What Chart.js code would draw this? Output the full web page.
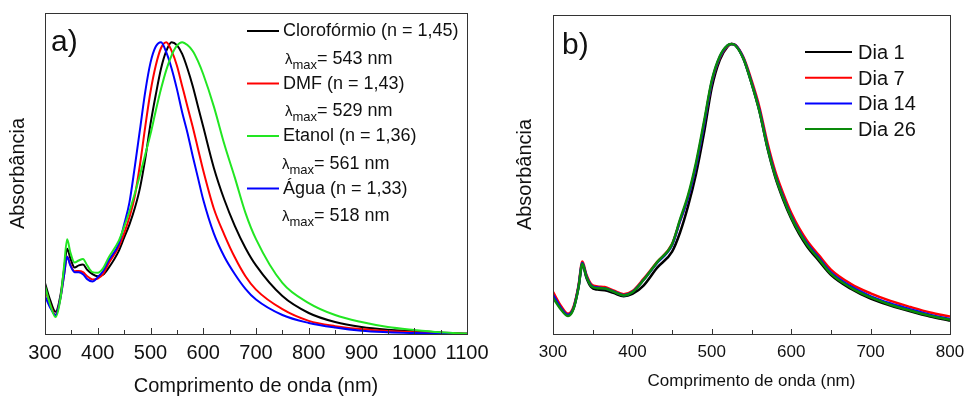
<!DOCTYPE html>
<html>
<head>
<meta charset="utf-8">
<title>Absorbância</title>
<script src="https://cdn.jsdelivr.net/npm/chart.js@4.4.1/dist/chart.umd.min.js"></script>
<style>
  html, body { margin: 0; padding: 0; background: #fff; }
  #wrap { position: relative; width: 966px; height: 396px; }
  .panel { position: absolute; top: 0; height: 396px; }
  #pa { left: 0; width: 490px; }
  #pb { left: 490px; width: 476px; }
</style>
</head>
<body>
<div id="wrap">
  <div class="panel" id="pa"><canvas id="chartA" width="490" height="396"></canvas></div>
  <div class="panel" id="pb"><canvas id="chartB" width="476" height="396"></canvas></div>
</div>
<script>
// ---- Dados (a): solventes ----
const wavelengthsA = [300, 310, 320, 330, 336, 342, 348, 356, 364, 372, 380, 390, 400, 410, 420, 440, 450, 460, 470, 480, 490, 500, 510, 520, 530, 540, 550, 560, 570, 580, 590, 600, 620, 640, 660, 680, 700, 750, 800, 850, 900, 950, 1000, 1050, 1100];
const cloroformio = [0.175, 0.115, 0.076, 0.14, 0.22, 0.292, 0.26, 0.228, 0.235, 0.238, 0.22, 0.205, 0.198, 0.203, 0.225, 0.285, 0.33, 0.375, 0.43, 0.50, 0.60, 0.72, 0.82, 0.91, 0.97, 1.0, 0.99, 0.96, 0.91, 0.85, 0.78, 0.71, 0.57, 0.46, 0.37, 0.295, 0.235, 0.13, 0.072, 0.041, 0.024, 0.015, 0.01, 0.005, 0.002];
const dmf = [0.155, 0.10, 0.066, 0.13, 0.20, 0.265, 0.238, 0.215, 0.216, 0.212, 0.198, 0.187, 0.19, 0.205, 0.24, 0.30, 0.345, 0.40, 0.47, 0.58, 0.71, 0.83, 0.92, 0.98, 1.0, 0.97, 0.92, 0.85, 0.78, 0.71, 0.635, 0.56, 0.43, 0.34, 0.262, 0.198, 0.152, 0.085, 0.045, 0.027, 0.017, 0.01, 0.006, 0.003, 0.0];
const etanol = [0.165, 0.10, 0.058, 0.13, 0.23, 0.325, 0.28, 0.245, 0.252, 0.257, 0.235, 0.212, 0.21, 0.225, 0.26, 0.32, 0.367, 0.42, 0.48, 0.545, 0.615, 0.685, 0.765, 0.84, 0.905, 0.955, 0.988, 1.0, 0.99, 0.97, 0.935, 0.89, 0.78, 0.65, 0.535, 0.415, 0.325, 0.175, 0.106, 0.065, 0.041, 0.024, 0.014, 0.006, 0.001];
const agua = [0.13, 0.09, 0.065, 0.13, 0.20, 0.265, 0.235, 0.212, 0.212, 0.205, 0.188, 0.18, 0.195, 0.215, 0.25, 0.31, 0.375, 0.45, 0.57, 0.70, 0.83, 0.93, 0.985, 1.0, 0.965, 0.91, 0.84, 0.76, 0.69, 0.61, 0.535, 0.46, 0.345, 0.265, 0.205, 0.155, 0.118, 0.065, 0.038, 0.022, 0.011, 0.006, 0.003, 0.001, 0.0];
const solventLabels = ['Clorofórmio (n = 1,45)', 'DMF (n = 1,43)', 'Etanol (n = 1,36)', 'Água (n = 1,33)'];
const lambdaMax = [543, 529, 561, 518];
const ticksA = [300, 400, 500, 600, 700, 800, 900, 1000, 1100];

// ---- Dados (b): estabilidade ----
const wavelengthsB = [300, 310, 319, 326, 332, 337, 342, 348, 356, 365, 376, 389, 400, 414, 431, 450, 460, 470, 480, 490, 500, 510, 520, 525, 530, 540, 550, 560, 570, 580, 590, 600, 610, 620, 635, 650, 675, 700, 725, 750, 775, 800];
const dia1 = [0.135, 0.09, 0.068, 0.09, 0.16, 0.24, 0.195, 0.162, 0.153, 0.151, 0.142, 0.13, 0.138, 0.167, 0.228, 0.284, 0.35, 0.44, 0.55, 0.69, 0.85, 0.945, 0.992, 1.0, 0.995, 0.948, 0.865, 0.768, 0.642, 0.54, 0.463, 0.398, 0.345, 0.302, 0.252, 0.204, 0.156, 0.122, 0.098, 0.078, 0.06, 0.046];
const dia7 = [0.145, 0.097, 0.07, 0.095, 0.165, 0.25, 0.205, 0.172, 0.164, 0.162, 0.15, 0.137, 0.148, 0.19, 0.248, 0.31, 0.39, 0.47, 0.58, 0.72, 0.868, 0.953, 0.994, 1.0, 0.996, 0.953, 0.875, 0.782, 0.66, 0.56, 0.484, 0.418, 0.365, 0.322, 0.271, 0.222, 0.173, 0.14, 0.114, 0.093, 0.074, 0.06];
const dia14 = [0.135, 0.09, 0.066, 0.09, 0.16, 0.245, 0.2, 0.168, 0.16, 0.158, 0.147, 0.134, 0.145, 0.186, 0.245, 0.307, 0.39, 0.47, 0.58, 0.72, 0.87, 0.955, 0.995, 1.0, 0.995, 0.95, 0.868, 0.772, 0.648, 0.548, 0.472, 0.407, 0.355, 0.312, 0.262, 0.212, 0.164, 0.13, 0.105, 0.085, 0.066, 0.052];
const dia26 = [0.125, 0.085, 0.062, 0.088, 0.158, 0.242, 0.198, 0.166, 0.158, 0.157, 0.146, 0.133, 0.144, 0.186, 0.247, 0.31, 0.395, 0.478, 0.59, 0.73, 0.875, 0.958, 0.996, 1.0, 0.994, 0.948, 0.865, 0.768, 0.644, 0.544, 0.468, 0.403, 0.351, 0.308, 0.258, 0.208, 0.16, 0.126, 0.101, 0.081, 0.063, 0.049];
const dayLabels = ['Dia 1', 'Dia 7', 'Dia 14', 'Dia 26'];
const ticksB = [300, 400, 500, 600, 700, 800];

const FONT = '"Liberation Sans", Arial, sans-serif';
const INK = '#111';

function pts(xs, ys) {
  return xs.map((x, i) => ({ x: x, y: ys[i] }));
}

// moldura + ticks para dentro (maiores e menores)
const frameTicks = {
  id: 'frameTicks',
  afterDatasetsDraw(chart, args, opts) {
    const { ctx, chartArea: a } = chart;
    const x = chart.scales.x;
    ctx.save();
    ctx.strokeStyle = '#333';
    ctx.lineWidth = 1;
    ctx.strokeRect(a.left + 0.5, a.top + 0.5, a.right - a.left, a.bottom - a.top);
    for (let v = x.min; v <= x.max; v += opts.minor) {
      const px = Math.round(x.getPixelForValue(v)) + 0.5;
      const len = (v % opts.major === 0) ? opts.majorLen : opts.minorLen;
      ctx.beginPath();
      ctx.moveTo(px, a.bottom);
      ctx.lineTo(px, a.bottom - len);
      ctx.stroke();
    }
    ctx.restore();
  }
};

// legenda e rótulo do painel
const panelText = {
  id: 'panelText',
  afterDraw(chart, args, opts) {
    const ctx = chart.ctx;
    ctx.save();
    ctx.fillStyle = INK;
    ctx.textBaseline = 'alphabetic';
    ctx.font = opts.tagSize + 'px ' + FONT;
    ctx.fillText(opts.tag, opts.tagX, opts.tagY);
    opts.items.forEach((it, i) => {
      const base = opts.y0 + i * opts.step;
      ctx.strokeStyle = chart.data.datasets[it.ds].borderColor;
      ctx.lineWidth = 2;
      ctx.beginPath();
      ctx.moveTo(opts.lineX0, base - opts.lineUp);
      ctx.lineTo(opts.lineX1, base - opts.lineUp);
      ctx.stroke();
      ctx.fillStyle = INK;
      ctx.font = opts.size + 'px ' + FONT;
      ctx.fillText(it.label, opts.textX, base);
      if (it.lmax) {
        const lb = base + opts.lamDy;
        let lx = it.lamX;
        ctx.font = '15px ' + FONT;
        ctx.fillText('λ', lx, lb);
        lx += ctx.measureText('λ').width;
        ctx.font = '13px ' + FONT;
        ctx.fillText('max', lx, lb + 5);
        lx += ctx.measureText('max').width;
        ctx.font = opts.size + 'px ' + FONT;
        ctx.fillText('= ' + it.lmax + ' nm', lx, lb);
      }
    });
    ctx.restore();
  }
};

function line(label, xs, ys, color, width, order) {
  return {
    label: label,
    data: pts(xs, ys),
    borderColor: color,
    borderWidth: width,
    pointRadius: 0,
    fill: false,
    cubicInterpolationMode: 'monotone',
    order: order
  };
}

function baseOptions(cfg) {
  return {
    responsive: false,
    animation: false,
    layout: { padding: { top: cfg.padTop, right: cfg.padRight, left: 0, bottom: 0 } },
    plugins: {
      legend: { display: false },
      tooltip: { enabled: false },
      frameTicks: { major: 100, minor: 50, majorLen: cfg.majorLen, minorLen: cfg.minorLen },
      panelText: cfg.panelText
    },
    scales: {
      x: {
        type: 'linear',
        min: cfg.xMin,
        max: cfg.xMax,
        afterBuildTicks: (s) => { s.ticks = cfg.ticks.map(v => ({ value: v })); },
        afterFit: (s) => { s.height = 62; s.paddingLeft = 0; s.paddingRight = 0; },
        grid: { display: false, drawTicks: false },
        border: { display: false },
        ticks: {
          color: INK, padding: cfg.tickPad, maxRotation: 0, autoSkip: false,
          font: { family: FONT, size: cfg.tickSize },
          callback: (v) => String(v)
        },
        title: { display: true, text: 'Comprimento de onda (nm)', color: INK, font: { family: FONT, size: cfg.xTitleSize, lineHeight: 1 }, padding: { top: 0, bottom: cfg.xTitlePad } }
      },
      y: {
        min: 0,
        max: 1.1,
        afterFit: (s) => { s.width = cfg.yWidth; },
        grid: { display: false, drawTicks: false },
        border: { display: false },
        ticks: { display: false },
        title: { display: true, text: 'Absorbância', color: INK, font: { family: FONT, size: 20, lineHeight: 1.2 }, padding: { top: cfg.yTitlePad, bottom: 0 } }
      }
    }
  };
}

new Chart(document.getElementById('chartA'), {
  type: 'line',
  data: {
    datasets: [
      line(solventLabels[0], wavelengthsA, cloroformio, '#000000', 2, 3),
      line(solventLabels[1], wavelengthsA, dmf, '#ff0000', 2, 2),
      line(solventLabels[2], wavelengthsA, etanol, '#22e622', 2, 0),
      line(solventLabels[3], wavelengthsA, agua, '#0000ff', 2, 1)
    ]
  },
  options: baseOptions({
    padTop: 13, padRight: 23, yWidth: 45, yTitlePad: 6,
    xMin: 300, xMax: 1100, ticks: ticksA, tickSize: 20, tickPad: 7,
    xTitleSize: 20, xTitlePad: 0, majorLen: 6, minorLen: 4,
    panelText: {
      tag: 'a)', tagSize: 30, tagX: 51, tagY: 51,
      size: 18, y0: 36, step: 52.5, lineUp: 5, lineX0: 247, lineX1: 279, textX: 283, lamDy: 27.5,
      items: solventLabels.map((l, i) => ({ label: l, ds: i, lmax: lambdaMax[i], lamX: i < 2 ? 285 : 282 }))
    }
  }),
  plugins: [frameTicks, panelText]
});

new Chart(document.getElementById('chartB'), {
  type: 'line',
  data: {
    datasets: [
      line(dayLabels[0], wavelengthsB, dia1, '#000000', 2.5, 3),
      line(dayLabels[1], wavelengthsB, dia7, '#ff0000', 2.5, 2),
      line(dayLabels[2], wavelengthsB, dia14, '#0000ff', 2.5, 1),
      line(dayLabels[3], wavelengthsB, dia26, '#0a8a0a', 2.5, 0)
    ]
  },
  options: baseOptions({
    padTop: 15, padRight: 16, yWidth: 63, yTitlePad: 23,
    xMin: 300, xMax: 800, ticks: ticksB, tickSize: 17, tickPad: 8,
    xTitleSize: 17, xTitlePad: 6, majorLen: 5, minorLen: 4,
    panelText: {
      tag: 'b)', tagSize: 30, tagX: 72, tagY: 54,
      size: 20, y0: 59, step: 25.7, lineUp: 7, lineX0: 315, lineX1: 362, textX: 368, lamDy: 0,
      items: dayLabels.map((l, i) => ({ label: l, ds: i }))
    }
  }),
  plugins: [frameTicks, panelText]
});
</script>
</body>
</html>
